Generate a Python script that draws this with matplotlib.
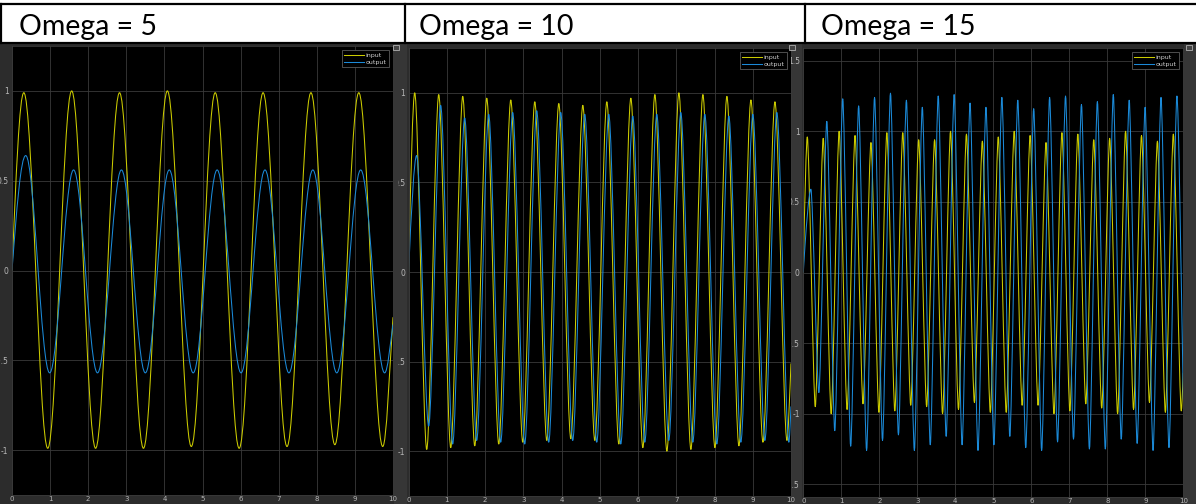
import numpy as np
import matplotlib
matplotlib.use("Agg")
import matplotlib.pyplot as plt
from matplotlib.lines import Line2D
from matplotlib.patches import Rectangle, PathPatch
from matplotlib.path import Path
from matplotlib.transforms import Bbox, TransformedBbox

FIG_W, FIG_H = 1196, 504

titles = ["Omega = 5", "Omega = 10", "Omega = 15"]
y_ticks = [
    [-1, -0.5, 0, 0.5, 1],
    [-1, -0.5, 0, 0.5, 1],
    [-1.5, -1, -0.5, 0, 0.5, 1, 1.5],
]
y_limits = [1.25, 1.25, 1.59]
x_ticks = list(range(11))
legend_labels = ["input", "output"]

# time of first extreme and spacing between extremes
in_first = [0.31, 0.16, 0.105]
out_first = [0.36, 0.21, 0.20]
half_period = [0.628, 0.314, 0.2094]
in_end = [-0.26, -0.51, -0.71]
out_end = [-0.30, -0.75, -0.90]

# omega = 5
in5_peaks = [0.99, 1.00, 0.99, 1.00, 0.99, 0.99, 0.99, 0.99]
in5_troughs = [-0.99, -0.99, -0.99, -0.98, -0.99, -0.98, -0.97, -0.98]
out5_peaks = [0.64, 0.56, 0.56, 0.56, 0.56, 0.56, 0.56, 0.56]
out5_troughs = [-0.57, -0.57, -0.57, -0.57, -0.57, -0.57, -0.57, -0.57]

# omega = 10
in10_peaks = [1.00, 0.99, 0.98, 0.97, 0.96, 0.95, 0.94, 0.93,
              0.95, 0.97, 0.99, 1.00, 0.99, 0.98, 0.96, 0.95]
in10_troughs = [-0.99, -0.98, -0.97, -0.96, -0.95, -0.94, -0.93, -0.94,
                -0.96, -0.98, -1.00, -0.99, -0.98, -0.97, -0.95, -0.94]
out10_peaks = [0.65, 0.93, 0.86, 0.88, 0.89, 0.90, 0.89, 0.88,
               0.88, 0.87, 0.88, 0.89, 0.88, 0.87, 0.88, 0.89]
out10_troughs = [-0.86, -0.96, -0.94, -0.95, -0.96, -0.95, -0.94, -0.95,
                 -0.96, -0.95, -0.94, -0.95, -0.96, -0.95, -0.94, -0.95]

# omega = 15
in15_peaks = [0.96, 0.95, 1.00, 0.97, 0.92, 0.99, 0.99, 0.94, 0.94, 1.00, 0.98, 0.93,
              0.96, 1.00, 0.97, 0.92, 0.99, 0.98, 0.94, 0.95, 1.00, 0.97, 0.93, 0.98]
in15_troughs = [-0.95, -1.00, -0.97, -0.93, -0.99, -0.98, -0.94, -0.95, -1.00, -0.97, -0.92, -0.99,
                -0.99, -0.94, -0.94, -1.00, -0.98, -0.93, -0.96, -1.00, -0.97, -0.92, -0.99, -0.98]
out15_peaks = [0.59, 1.07, 1.23, 1.18, 1.24, 1.27, 1.22, 1.17, 1.25, 1.26, 1.20, 1.17,
               1.24, 1.22, 1.16, 1.24, 1.25, 1.19, 1.21, 1.26, 1.22, 1.17, 1.24, 1.25]
out15_troughs = [-0.85, -1.12, -1.23, -1.26, -1.19, -1.15, -1.26, -1.22, -1.16, -1.22, -1.26, -1.22,
                 -1.16, -1.24, -1.26, -1.20, -1.18, -1.25, -1.25, -1.18, -1.21, -1.26, -1.24]

inputs = [(in5_peaks, in5_troughs), (in10_peaks, in10_troughs), (in15_peaks, in15_troughs)]
outputs = [(out5_peaks, out5_troughs), (out10_peaks, out10_troughs), (out15_peaks, out15_troughs)]

# axes boxes in pixels: left, top, right, bottom
axes_px = [(12, 46, 393, 495), (408.6, 48, 791, 496), (803.3, 48, 1183.3, 497)]
label_clip_px = [(0, 395), (398, 795), (791, 1196)]
title_x = [19, 419, 821]
# how rounded the peaks look (coarse sampling makes the faster ones sharper)
roundness = [0.36, 0.30, 0.24]

YELLOW = "#cccc00"
BLUE = "#1b8ad8"
TICK_COLOR = "#b8b8b8"


def fx(px):
    return px / FIG_W


def fy(py):
    return 1 - py / FIG_H


def build_wave(first, half, peaks, troughs, end):
    n = len(peaks) + len(troughs)
    vals = np.empty(n)
    vals[0::2] = peaks
    vals[1::2] = troughs
    t = first + half * np.arange(n)
    return np.r_[0, t, 10], np.r_[0, vals, end]


def wave_path(t, v, a):
    # smooth half-waves between the extremes, drawn as bezier segments
    verts = [(t[0], v[0])]
    codes = [Path.MOVETO]
    last = len(t) - 2
    for k in range(len(t) - 1):
        h = t[k + 1] - t[k]
        dv = v[k + 1] - v[k]
        if k == 0:
            c1 = (t[k] + 0.33 * h, v[k] + 0.52 * dv)
        else:
            c1 = (t[k] + a * h, v[k])
        if k == last:
            c2 = (t[k + 1] - 0.33 * h, v[k + 1] - 0.4 * dv)
        else:
            c2 = (t[k + 1] - a * h, v[k + 1])
        verts += [c1, c2, (t[k + 1], v[k + 1])]
        codes += [Path.CURVE4] * 3
    return Path(verts, codes)


fig = plt.figure(figsize=(FIG_W / 100, FIG_H / 100), dpi=100)
fig.patch.set_facecolor("white")

# scope backgrounds
fig.add_artist(Rectangle((0, 0), 1, fy(44), transform=fig.transFigure,
                         facecolor="#2c2c2c", edgecolor="none", zorder=0))
for x0, x1 in [(394, 407), (791, 802), (1184, 1196)]:
    fig.add_artist(Rectangle((fx(x0), 0), fx(x1) - fx(x0), fy(44), transform=fig.transFigure,
                             facecolor="#363636", edgecolor="none", zorder=0))
# little undock buttons in the scope corners
for x0 in (393, 789, 1186):
    fig.add_artist(Rectangle((fx(x0), fy(50)), fx(6), 5 / FIG_H, transform=fig.transFigure,
                             facecolor="#444444", edgecolor="#c8c8c8", lw=0.5, zorder=5))

# header table
for y in (4, 43):
    fig.add_artist(Line2D([0, 1], [fy(y), fy(y)], transform=fig.transFigure,
                          color="black", lw=1.6))
for x in (1, 404.5, 804.5):
    fig.add_artist(Line2D([fx(x), fx(x)], [fy(4), fy(43)], transform=fig.transFigure,
                          color="black", lw=1.6))
for i, title in enumerate(titles):
    fig.text(fx(title_x[i]), fy(35), title, fontsize=20.5, family="Lato",
             ha="left", va="baseline", color="black")

for i in range(3):
    left, top, right, bottom = axes_px[i]
    ax = fig.add_axes([fx(left), fy(bottom), fx(right) - fx(left), fy(top) - fy(bottom)])
    ax.set_facecolor("black")

    t_in, v_in = build_wave(in_first[i], half_period[i], *inputs[i], in_end[i])
    t_out, v_out = build_wave(out_first[i], half_period[i], *outputs[i], out_end[i])
    for t, v, color in [(t_in, v_in, YELLOW), (t_out, v_out, BLUE)]:
        ax.add_patch(PathPatch(wave_path(t, v, roundness[i]), facecolor="none",
                               edgecolor=color, lw=0.75, joinstyle="round"))

    ax.set_xlim(0, 10)
    ax.set_ylim(-y_limits[i], y_limits[i])
    ax.set_xticks(x_ticks)
    ax.set_yticks(y_ticks[i])
    ax.set_xticklabels([str(x) for x in x_ticks])
    ax.set_yticklabels([f"{y:g}" for y in y_ticks[i]])
    ax.tick_params(length=0, labelsize=5.5, colors=TICK_COLOR)
    ax.tick_params(axis="y", pad=2.5)
    ax.tick_params(axis="x", labelsize=5, pad=0.8)
    ax.grid(True, color="#3a3a3a", lw=0.6)
    ax.set_axisbelow(True)
    for spine in ax.spines.values():
        spine.set_color("#3a3a3a")
        spine.set_linewidth(0.6)

    # the screenshots cut the y tick labels at the panel edge
    p0, p1 = label_clip_px[i]
    clip = TransformedBbox(Bbox([[fx(p0), 0], [fx(p1), fy(44)]]), fig.transFigure)
    for label in ax.get_yticklabels():
        label.set_clip_box(clip)
        label.set_clip_on(True)

    handles = [Line2D([], [], color=YELLOW, lw=0.75), Line2D([], [], color=BLUE, lw=0.75)]
    leg = ax.legend(handles, legend_labels, loc="upper right", fontsize=4.5, frameon=True,
                    fancybox=False, handlelength=3.2, borderpad=0.35, borderaxespad=0.7,
                    labelcolor="#d0d0d0", handletextpad=0.25, labelspacing=0.3)
    leg.get_frame().set_facecolor("black")
    leg.get_frame().set_edgecolor("#5a5a5a")
    leg.get_frame().set_linewidth(0.6)
    leg.get_frame().set_alpha(1)

fig.savefig("out.png", dpi=100)
